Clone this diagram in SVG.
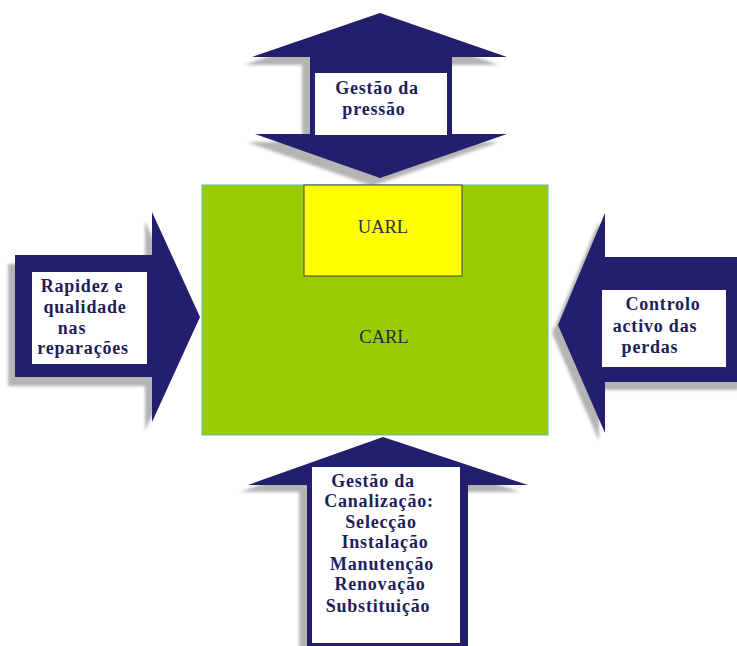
<svg xmlns="http://www.w3.org/2000/svg" xmlns:xlink="http://www.w3.org/1999/xlink" width="737" height="646" viewBox="0 0 737 646">
<style>
.arrow{fill:#231e6e;}
.shadow{fill:#b4b4b4;filter:url(#blur);}
.box{fill:#ffffff;}
.lbl{font-family:"Liberation Serif","DejaVu Serif",serif;font-weight:bold;font-size:18px;letter-spacing:0.8px;fill:#1e1e5a;text-anchor:middle;}
.core{font-family:"Liberation Serif","DejaVu Serif",serif;font-size:18.5px;fill:#2a2a44;text-anchor:middle;}
</style>
<defs>
<filter id="blur" x="-10%" y="-10%" width="120%" height="120%"><feGaussianBlur stdDeviation="1.5"/></filter>
</defs>
<rect width="737" height="646" fill="#ffffff"/>
<g id="connectors">
<g id="arrow-top">
<polygon class="shadow" transform="translate(-8,8)" points="380,13 507,57 452,57 452,134 507,134 380,178 255,134 310,134 310,57 252,57"/>
<polygon class="arrow" points="380,13 507,57 452,57 452,134 507,134 380,178 255,134 310,134 310,57 252,57"/>
<rect class="box" x="315" y="73" width="132" height="62"/>
<text class="lbl" x="377" y="94">Gestão da</text>
<text class="lbl" x="374" y="115">pressão</text>
</g>
<g id="arrow-left">
<polygon class="shadow" transform="translate(-7,9)" points="15,255 152,255 152,212 200,317 152,422 152,377 15,377"/>
<polygon class="arrow" points="15,255 152,255 152,212 200,317 152,422 152,377 15,377"/>
<rect class="box" x="32" y="272" width="115" height="92"/>
<text class="lbl" x="82" y="292">Rapidez e</text>
<text class="lbl" x="85" y="313">qualidade</text>
<text class="lbl" x="72" y="334">nas</text>
<text class="lbl" x="83" y="354">reparações</text>
</g>
<g id="arrow-right">
<polygon class="shadow" transform="translate(-6,8)" points="558,325 605,213 605,257 745,257 745,382 605,382 605,433"/>
<polygon class="arrow" points="558,325 605,213 605,257 737,257 737,382 605,382 605,433"/>
<rect class="box" x="602" y="290" width="124" height="77"/>
<text class="lbl" x="663" y="310">Controlo</text>
<text class="lbl" x="655" y="332">activo das</text>
<text class="lbl" x="650" y="353">perdas</text>
</g>
<g id="arrow-bottom">
<polygon class="shadow" transform="translate(-8,7)" points="383,437 528,485 468,485 468,660 307,660 307,485 248,485"/>
<polygon class="arrow" points="383,437 528,485 468,485 468,646 307,646 307,485 248,485"/>
<rect class="box" x="312" y="467" width="148" height="176"/>
<text class="lbl" x="373" y="487">Gestão da</text>
<text class="lbl" x="379" y="507">Canalização:</text>
<text class="lbl" x="381" y="528">Selecção</text>
<text class="lbl" x="385" y="548">Instalação</text>
<text class="lbl" x="382" y="570">Manutenção</text>
<text class="lbl" x="380" y="590">Renovação</text>
<text class="lbl" x="378" y="612">Substituição</text>
</g>
</g>
<g id="carl">
<rect x="202" y="185" width="346" height="250" fill="#99cc00" stroke="#5cc0c0" stroke-width="1"/>
<text class="core" x="384" y="343">CARL</text>
</g>
<g id="uarl">
<rect x="304" y="185" width="158" height="91" fill="#ffff00" stroke="#404040" stroke-width="1"/>
<text class="core" x="383" y="233">UARL</text>
</g>
</svg>
